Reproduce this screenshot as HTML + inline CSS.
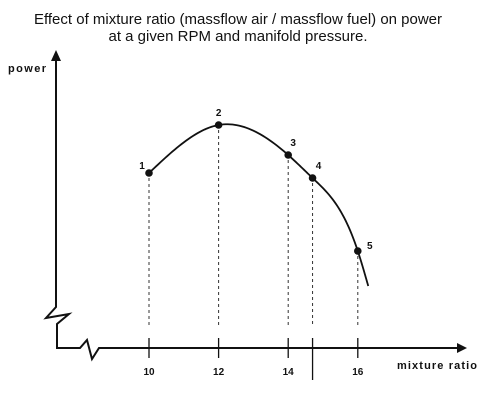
<!DOCTYPE html>
<html><head><meta charset="utf-8"><style>
html,body{margin:0;padding:0;background:#fff;}
svg{display:block;font-family:"Liberation Sans",Arial,sans-serif;}
</style></head><body>
<svg id="chart" width="486" height="407" viewBox="0 0 486 407">
<text x="238" y="24" font-size="14.5" text-anchor="middle" fill="#111" textLength="408" lengthAdjust="spacingAndGlyphs">Effect of mixture ratio (massflow air / massflow fuel) on power</text>
<text x="238" y="41" font-size="14.5" text-anchor="middle" fill="#111" textLength="259" lengthAdjust="spacingAndGlyphs">at a given RPM and manifold pressure.</text>
<text x="8" y="72" font-size="11" font-weight="bold" fill="#111" textLength="38">power</text>
<text x="397" y="369" font-size="11" font-weight="bold" fill="#111" textLength="80">mixture ratio</text>
<polyline points="56,60 56,307 46,318 69,314 57,324 57,348 80,348 87,340 92,359 99,348 458,348" fill="none" stroke="#111" stroke-width="2"/>
<polygon points="56,50 51,61 61,61" fill="#111"/>
<polygon points="467,348 457,343 457,353" fill="#111"/>
<g id="marks"></g>
</svg>
<script>
const ticks=[10,12,14,16];
const tickLabels=["10","12","14","16"];
const markerX=14.7;
const pointLabels=["1","2","3","4","5"];
const ratios=[10,12,14,14.7,16];
const power=[175,223,193,170,97];
const curveEndRatio=16.3;
const curveEndPower=62;
const NS="http://www.w3.org/2000/svg";
const g=document.getElementById('marks');
const xs=v=>149+(v-10)*34.8;
const ys=v=>348-v;
function el(t,a){const e=document.createElementNS(NS,t);for(const k in a)e.setAttribute(k,a[k]);g.appendChild(e);return e;}
ticks.forEach((t,i)=>{
 const l=el('line',{x1:xs(t),x2:xs(t),y1:338,y2:358,stroke:'#111','stroke-width':1.3});
 
 
 const tx=el('text',{x:xs(t),y:375,'font-size':10,'font-weight':'bold','text-anchor':'middle',fill:'#111'});
 tx.textContent=tickLabels[i];
 
 
});
const ml=el('line',{x1:xs(markerX),x2:xs(markerX),y1:338,y2:380,stroke:'#111','stroke-width':1.3});


// natural cubic spline through the data points (in pixel space)
const X=ratios.concat([curveEndRatio]).map(xs), Y=power.concat([curveEndPower]).map(ys);
const n=X.length, h=[], M=new Array(n).fill(0);
for(let i=0;i<n-1;i++)h.push(X[i+1]-X[i]);
(function(){
 const a=[],b=[],c=[],r=[];
 for(let i=1;i<n-1;i++){a.push(h[i-1]);b.push(2*(h[i-1]+h[i]));c.push(h[i]);r.push(6*((Y[i+1]-Y[i])/h[i]-(Y[i]-Y[i-1])/h[i-1]));}
 const m=b.length;
 for(let i=1;i<m;i++){const w=a[i]/b[i-1];b[i]-=w*c[i-1];r[i]-=w*r[i-1];}
 const s=new Array(m);s[m-1]=r[m-1]/b[m-1];
 for(let i=m-2;i>=0;i--)s[i]=(r[i]-c[i]*s[i+1])/b[i];
 for(let i=0;i<m;i++)M[i+1]=s[i];
})();
let d='M'+X[0]+','+Y[0];
for(let i=0;i<n-1;i++){
 for(let k=1;k<=30;k++){
  const x=X[i]+h[i]*k/30, A=(X[i+1]-x)/h[i], B=(x-X[i])/h[i];
  const y=A*Y[i]+B*Y[i+1]+((A*A*A-A)*M[i]+(B*B*B-B)*M[i+1])*h[i]*h[i]/6;
  d+='L'+x.toFixed(2)+','+y.toFixed(2);
 }
}
const c=el('path',{d:d,fill:'none',stroke:'#111','stroke-width':1.8});


const lblOff=[[-7,-4],[0,-9],[5,-9],[6,-9],[12,-2]];
ratios.forEach((r,i)=>{
 const x=xs(r),y=ys(power[i]);
 const dl=el('line',{x1:x,x2:x,y1:y+5,y2:326,stroke:'#333','stroke-width':1,'stroke-dasharray':'3,3'});
 
 
 const p=el('circle',{cx:x,cy:y,r:3.8,fill:'#111'});
 
 
 const t=el('text',{x:x+lblOff[i][0],y:y+lblOff[i][1],'font-size':10,'font-weight':'bold','text-anchor':'middle',fill:'#111'});
 t.textContent=pointLabels[i];
 
 
});
</script>
</body></html>
